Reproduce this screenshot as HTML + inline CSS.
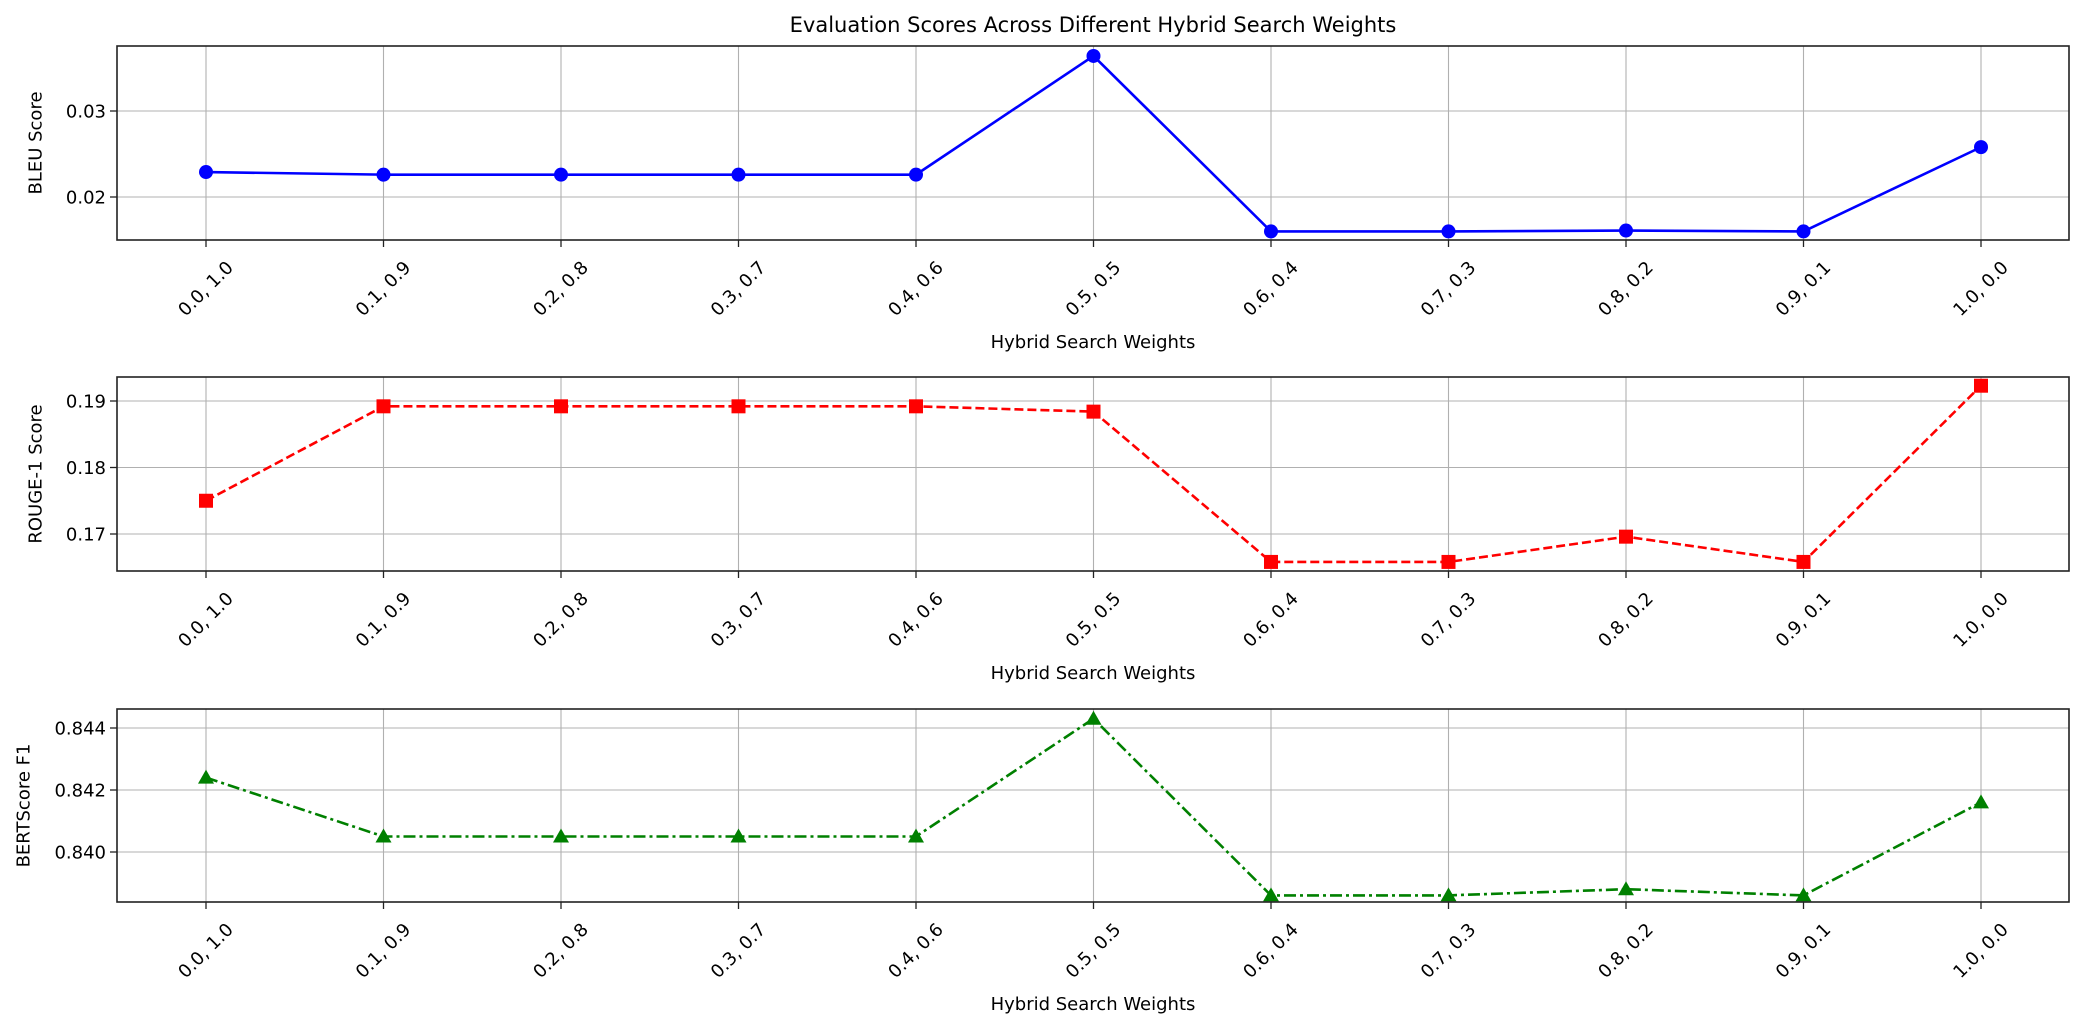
<!DOCTYPE html>
<html><head><meta charset="utf-8"><style>
html,body{margin:0;padding:0;background:#fff;}
svg{display:block;font-family:"DejaVu Sans","Liberation Sans",sans-serif;}
</style></head><body>
<svg id="chart" width="2084" height="1031" viewBox="0 0 2084 1031" xmlns="http://www.w3.org/2000/svg">
<text x="1093" y="32" font-size="21" text-anchor="middle" fill="#000">Evaluation Scores Across Different Hybrid Search Weights</text>
</svg>
<script>
const categories = ["0.0, 1.0","0.1, 0.9","0.2, 0.8","0.3, 0.7","0.4, 0.6","0.5, 0.5","0.6, 0.4","0.7, 0.3","0.8, 0.2","0.9, 0.1","1.0, 0.0"];
const bleuValues = [0.0229,0.0226,0.0226,0.0226,0.0226,0.0364,0.0160,0.0160,0.0161,0.0160,0.0258];
const rougeValues = [0.175,0.1892,0.1892,0.1892,0.1892,0.1884,0.1658,0.1658,0.1696,0.1658,0.1923];
const bertValues = [0.8424,0.8405,0.8405,0.8405,0.8405,0.8443,0.8386,0.8386,0.8388,0.8386,0.8416];
const bleuTicks = [0.02,0.03];
const rougeTicks = [0.17,0.18,0.19];
const bertTicks = [0.840,0.842,0.844];

const NS="http://www.w3.org/2000/svg";
const svg=document.getElementById('chart');
function mk(tag,attrs,parent){const e=document.createElementNS(NS,tag);for(const k in attrs)e.setAttribute(k,attrs[k]);(parent||svg).appendChild(e);return e;}

const L=117,R=2069,x0=206,x1=1981;
function xScale(i){return x0+(x1-x0)*i/(categories.length-1);}

const panels=[
 {key:'bleu',vals:bleuValues,ticks:bleuTicks,top:46,bot:240,yA:0.02,pA:197,yB:0.03,pB:111,fmt:v=>v.toFixed(2),label:'BLEU Score',lx:36,color:'blue',dash:'',marker:'circle'},
 {key:'rouge',vals:rougeValues,ticks:rougeTicks,top:377,bot:571,yA:0.17,pA:534,yB:0.19,pB:401,fmt:v=>v.toFixed(2),label:'ROUGE-1 Score',lx:36,color:'red',dash:'9,4',marker:'square'},
 {key:'bert',vals:bertValues,ticks:bertTicks,top:709,bot:902,yA:0.840,pA:852,yB:0.844,pB:728,fmt:v=>v.toFixed(3),label:'BERTScore F1',lx:24,color:'green',dash:'12,4,3,4',marker:'triangle'}
];

panels.forEach(p=>{
 const yScale=v=>p.pA+(v-p.yA)*(p.pB-p.pA)/(p.yB-p.yA);
 const g=mk('g',{});
 
 
 categories.forEach((c,i)=>{
  const gl=mk('line',{x1:xScale(i),x2:xScale(i),y1:p.top,y2:p.bot,stroke:'#b0b0b0','stroke-width':1.1},g);
  
  
  const tk=mk('line',{x1:xScale(i),x2:xScale(i),y1:p.bot,y2:p.bot+7,stroke:'#222','stroke-width':1.3},g);
  
  
  const cx=xScale(i), cy=p.bot+49;
  const t=mk('text',{x:cx,y:cy,'font-size':18,'text-anchor':'middle','dominant-baseline':'central',transform:`rotate(-45 ${cx} ${cy})`,fill:'#000'},g);
  t.textContent=c;
  
  
 });
 p.ticks.forEach(v=>{
  const y=yScale(v);
  const gl=mk('line',{x1:L,x2:R,y1:y,y2:y,stroke:'#b0b0b0','stroke-width':1.1},g);
  
  
  const tk=mk('line',{x1:L-7,x2:L,y1:y,y2:y,stroke:'#222','stroke-width':1.3},g);
  
  
  const t=mk('text',{x:L-11,y:y+6.5,'font-size':18,'text-anchor':'end',fill:'#000'},g);
  t.textContent=p.fmt(v);
  
  
 });
 const pts=p.vals.map((v,i)=>xScale(i)+','+yScale(v)).join(' ');
 const pl=mk('polyline',{points:pts,fill:'none',stroke:p.color,'stroke-width':2.6,'stroke-dasharray':p.dash},g);
 
 
 p.vals.forEach((v,i)=>{
  const x=xScale(i),y=yScale(v);let m;
  if(p.marker==='circle') m=mk('circle',{cx:x,cy:y,r:7,fill:p.color},g);
  else if(p.marker==='square') m=mk('rect',{x:x-7,y:y-7,width:14,height:14,fill:p.color},g);
  else m=mk('polygon',{points:`${x},${y-8} ${x+8},${y+6} ${x-8},${y+6}`,fill:p.color},g);
  
  
 });
 const fr=mk('rect',{x:L,y:p.top,width:R-L,height:p.bot-p.top,fill:'none',stroke:'#222','stroke-width':1.6},g);
 
 
 const yl=mk('text',{x:p.lx,y:(p.top+p.bot)/2,'font-size':18,'text-anchor':'middle',transform:`rotate(-90 ${p.lx} ${(p.top+p.bot)/2})`,'dominant-baseline':'central',fill:'#000'},g);
 yl.textContent=p.label;
 
 
 const xl=mk('text',{x:(L+R)/2,y:p.bot+108,'font-size':18,'text-anchor':'middle',fill:'#000'},g);
 xl.textContent='Hybrid Search Weights';
 
 
});
</script>
</body></html>
